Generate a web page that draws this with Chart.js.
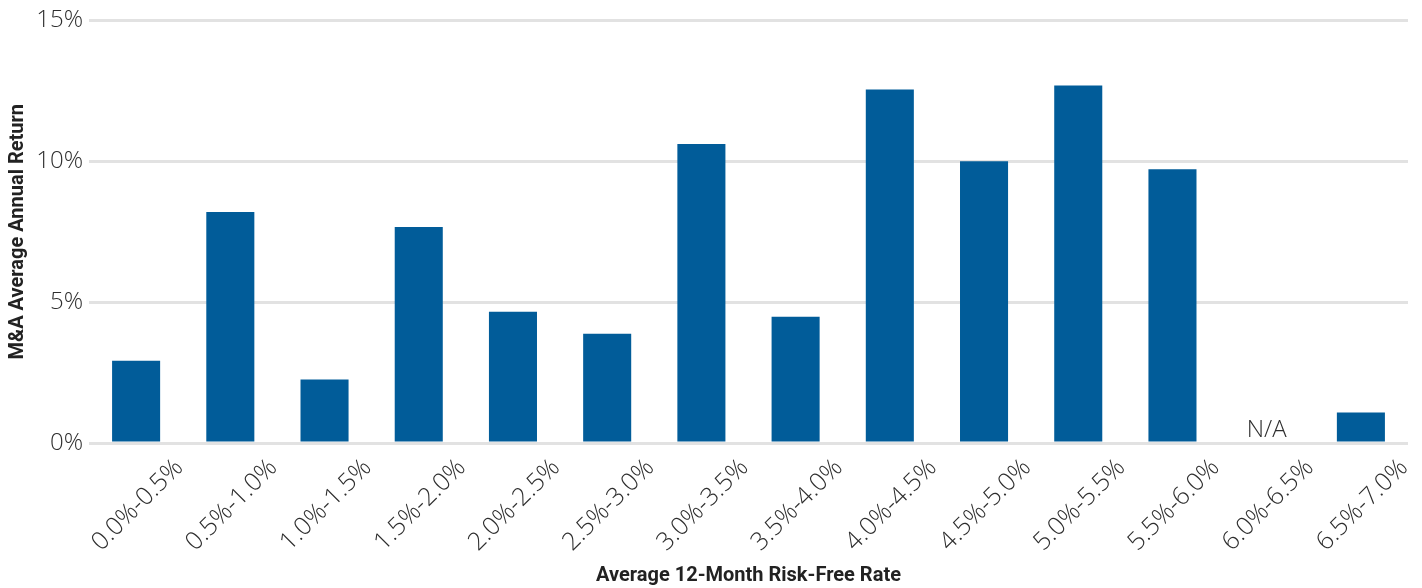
<!DOCTYPE html>
<html>
<head>
<meta charset="utf-8">
<title>M&amp;A Average Annual Return by Risk-Free Rate</title>
<script src="https://cdn.jsdelivr.net/npm/chart.js@4.4.1/dist/chart.umd.min.js"></script>
<style>
  html, body { margin: 0; padding: 0; background: #ffffff; }
  #wrap { width: 1422px; height: 588px; position: relative; }
</style>
</head>
<body>
<div id="wrap"><canvas id="chart"></canvas></div>
<script>
// Risk-free rate buckets (x axis)
const categories = [
  '0.0%-0.5%', '0.5%-1.0%', '1.0%-1.5%', '1.5%-2.0%', '2.0%-2.5%',
  '2.5%-3.0%', '3.0%-3.5%', '3.5%-4.0%', '4.0%-4.5%', '4.5%-5.0%',
  '5.0%-5.5%', '5.5%-6.0%', '6.0%-6.5%', '6.5%-7.0%'
];

// Average annual M&A return (%) per bucket; null = no observations
const avgReturn = [
  2.92, 8.20, 2.25, 7.67, 4.66,
  3.88, 10.61, 4.48, 12.55, 10.00,
  12.69, 9.72, null, 1.08
];

// Y axis ticks (%)
const yTicks = [0, 5, 10, 15];

const barColor = '#015c99';
const textColor = '#2e2e2e';
const fontFamily = "'Open Sans', 'Liberation Sans', sans-serif";
const xTickFont = { family: fontFamily, size: 25, weight: '300' };
const yTickFont = { family: fontFamily, size: 24, weight: '300' };
const titleFont = { family: "'Liberation Sans Narrow', 'Roboto', sans-serif", size: 20, weight: 'bold' };

// Writes "N/A" over buckets without data
const naLabels = {
  id: 'naLabels',
  afterDatasetsDraw(chart) {
    const { ctx, scales: { x, y } } = chart;
    ctx.save();
    ctx.font = `300 24px ${fontFamily}`;
    ctx.fillStyle = textColor;
    ctx.textAlign = 'center';
    ctx.textBaseline = 'alphabetic';
    avgReturn.forEach((v, i) => {
      if (v === null) {
        ctx.fillText('N/A', x.getPixelForValue(i), y.getPixelForValue(0) - 6);
      }
    });
    ctx.restore();
  }
};

new Chart(document.getElementById('chart'), {
  type: 'bar',
  data: {
    labels: categories,
    datasets: [{
      data: avgReturn,
      backgroundColor: barColor,
      borderWidth: 0,
      barPercentage: 0.51,
      categoryPercentage: 1.0
    }]
  },
  options: {
    responsive: true,
    maintainAspectRatio: false,
    animation: false,
    layout: { padding: { left: 2, right: 14, top: 8, bottom: 0 } },
    plugins: {
      legend: { display: false },
      tooltip: { enabled: false }
    },
    scales: {
      x: {
        afterFit(scale) { scale.height = 145; },
        grid: { display: false, drawTicks: false },
        border: { display: false },
        ticks: {
          color: textColor,
          font: xTickFont,
          maxRotation: 45,
          minRotation: 45,
          labelOffset: 43,
          padding: 10,
          autoSkip: false
        },
        title: {
          display: true,
          text: 'Average 12-Month Risk-Free Rate',
          color: '#222222',
          font: titleFont,
          padding: { top: 4, bottom: 0 }
        }
      },
      y: {
        min: 0,
        max: 15,
        afterFit(scale) { scale.width = 87; },
        afterBuildTicks(axis) {
          axis.ticks = yTicks.map(v => ({ value: v }));
        },
        grid: { color: '#e2e2e2', lineWidth: 3, drawTicks: false },
        border: { display: false },
        ticks: {
          color: textColor,
          font: yTickFont,
          padding: 6,
          callback: v => v + '%'
        },
        title: {
          display: true,
          text: 'M&A Average Annual Return',
          color: '#222222',
          font: titleFont,
          padding: { top: 4, bottom: 4 }
        }
      }
    }
  },
  plugins: [naLabels]
});
</script>
</body>
</html>
